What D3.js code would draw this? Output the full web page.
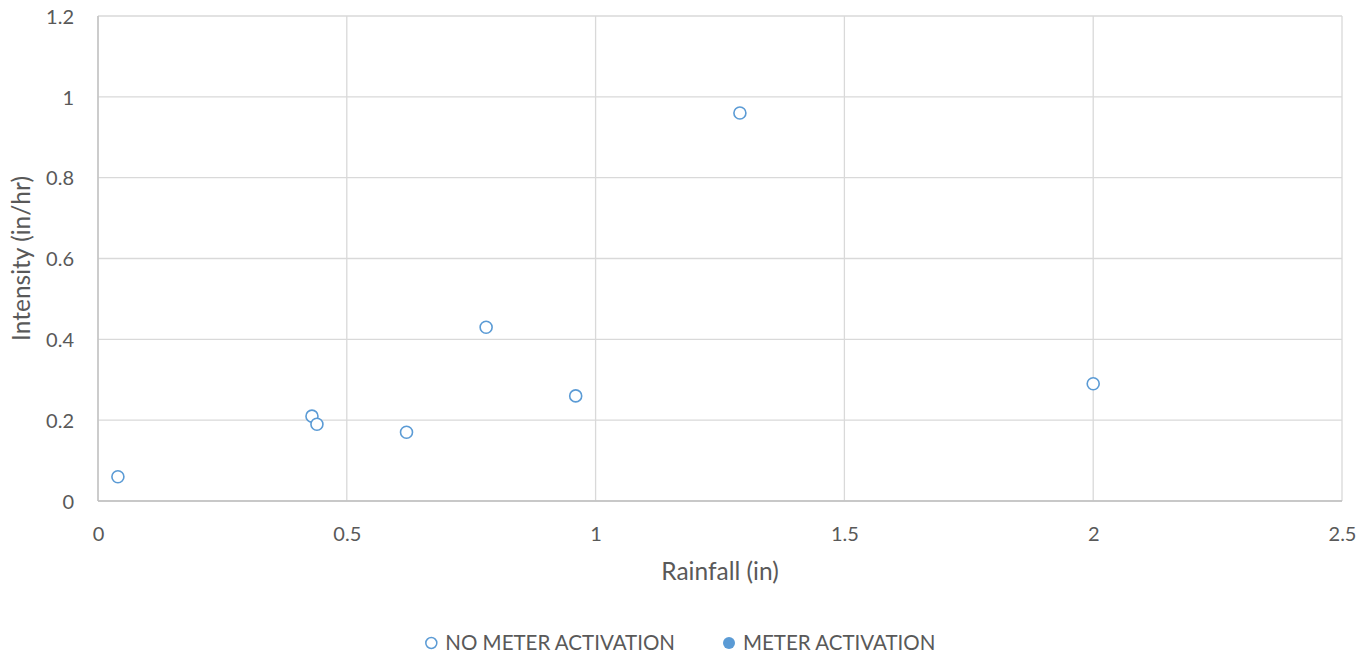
<!DOCTYPE html>
<html><head><meta charset="utf-8">
<script src="https://cdn.jsdelivr.net/npm/d3@7/dist/d3.min.js"></script>
<style>body{margin:0;background:#fff;} text{font-family:Lato,"Open Sans",sans-serif;fill:#595959;}</style>
</head><body>
<svg id="c" width="1372" height="657"></svg>
<script>
const rainfall = [0.04, 0.43, 0.44, 0.62, 0.78, 0.96, 1.29, 2.0];
const intensity = [0.06, 0.21, 0.19, 0.17, 0.43, 0.26, 0.96, 0.29];
const meterRainfall = [];
const meterIntensity = [];
const xTicks = [0, 0.5, 1, 1.5, 2, 2.5];
const yTicks = [0, 0.2, 0.4, 0.6, 0.8, 1, 1.2];
const seriesNames = ["NO METER ACTIVATION", "METER ACTIVATION"];
const color = "#5B9BD5";

const svg = d3.select("#c");
const L = 98, R = 1342, T = 16, B = 501;
const x = d3.scaleLinear().domain([0, 2.5]).range([L, R]);
const y = d3.scaleLinear().domain([0, 1.2]).range([B, T]);

// gridlines
svg.append("g").selectAll("line").data(xTicks).join("line")
  .attr("x1", d => x(d)).attr("x2", d => x(d)).attr("y1", T).attr("y2", B)
  .attr("stroke", "#d9d9d9").attr("stroke-width", 1.3);
svg.append("g").selectAll("line").data(yTicks).join("line")
  .attr("x1", L).attr("x2", R).attr("y1", d => y(d)).attr("y2", d => y(d))
  .attr("stroke", "#d9d9d9").attr("stroke-width", 1.3);
// axis lines
svg.append("line").attr("x1", L).attr("x2", L).attr("y1", T).attr("y2", B).attr("stroke", "#bfbfbf").attr("stroke-width", 1.3);
svg.append("line").attr("x1", L).attr("x2", R).attr("y1", B).attr("y2", B).attr("stroke", "#bfbfbf").attr("stroke-width", 1.3);

// axes via d3
const xAxis = d3.axisBottom(x).tickValues(xTicks).tickFormat(d => String(d)).tickSize(0);
const gx = svg.append("g").attr("transform", `translate(0,${B})`).call(xAxis);
gx.select(".domain").remove();
gx.selectAll("text").style("font-size", "20px").attr("fill", "#595959").attr("y", 40).attr("dy", null);

const yAxis = d3.axisLeft(y).tickValues(yTicks).tickFormat(d => String(d)).tickSize(0).tickPadding(24);
const gy = svg.append("g").attr("transform", `translate(${L},0)`).call(yAxis);
gy.select(".domain").remove();
gy.selectAll("text").style("font-size", "20px").attr("fill", "#595959").attr("dy", "0.36em");

// axis titles
svg.append("text").attr("x", (L + R) / 2).attr("y", 580).attr("text-anchor", "middle")
  .style("font-size", "24.5px").text("Rainfall (in)");
svg.append("text").attr("transform", `translate(30,${(T + B) / 2}) rotate(-90)`).attr("text-anchor", "middle")
  .style("font-size", "24.5px").text("Intensity (in/hr)");

// points
svg.append("g").selectAll("circle").data(rainfall.map((r, i) => [r, intensity[i]])).join("circle")
  .attr("cx", d => x(d[0])).attr("cy", d => y(d[1])).attr("r", 6)
  .attr("fill", "#fff").attr("stroke", color).attr("stroke-width", 1.6);
svg.append("g").selectAll("circle").data(meterRainfall.map((r, i) => [r, meterIntensity[i]])).join("circle")
  .attr("cx", d => x(d[0])).attr("cy", d => y(d[1])).attr("r", 6)
  .attr("fill", color);

// legend
const lg = svg.append("g");
const t1 = lg.append("text").attr("x", 675).attr("y", 650).attr("text-anchor", "end").style("font-size", "20.5px").text(seriesNames[0]);
const w1 = t1.node().getComputedTextLength();
lg.append("circle").attr("cx", 675 - w1 - 14).attr("cy", 643).attr("r", 5.5).attr("fill", "#fff").attr("stroke", color).attr("stroke-width", 1.5);
lg.append("circle").attr("cx", 729).attr("cy", 643).attr("r", 6).attr("fill", color);
lg.append("text").attr("x", 743).attr("y", 650).style("font-size", "20.5px").text(seriesNames[1]);
</script>
</body></html>
